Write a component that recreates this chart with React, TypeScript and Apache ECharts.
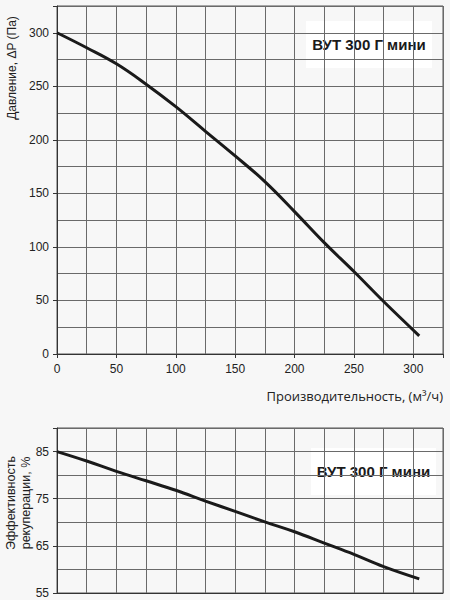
import React, { useEffect, useRef } from "react";
import * as echarts from "echarts";

const flowX = [0, 25, 50, 75, 100, 125, 150, 175, 200, 225, 250, 275, 305];
const pressure = [300, 286, 271, 252, 231, 208, 185, 161, 133, 104, 77, 49, 17];
const efficiency = [85, 83, 80.8, 78.8, 76.8, 74.5, 72.3, 70.1, 68, 65.6, 63.2, 60.6, 58];
const modelLabel = "ВУТ 300 Г мини";
const xTitle = "Производительность, (м³/ч)";
const yTitleTop = "Давление, ΔP (Па)";
const yTitleBottom = "Эффективность\nрекуперации, %";

const GRID_COLOR = "#6a6a6a";
const AXIS_COLOR = "#333";
const FONT = "Liberation Sans, Arial, sans-serif";

function xAxisCfg(gridIndex: number, showLabels: boolean) {
  return {
    type: "value",
    gridIndex,
    min: 0,
    max: 325,
    interval: 50,
    axisLine: { show: true, lineStyle: { color: AXIS_COLOR, width: 1 } },
    axisTick: { show: showLabels, length: 4, lineStyle: { color: AXIS_COLOR } },
    axisLabel: {
      show: showLabels,
      color: "#222",
      fontSize: 12,
      fontFamily: FONT,
      margin: 9,
      formatter: (v: number) => (v === 325 ? "" : String(v)),
    },
    splitLine: { show: true, lineStyle: { color: GRID_COLOR, width: 1 } },
    minorTick: { show: false, splitNumber: 2 },
    minorSplitLine: { show: true, lineStyle: { color: GRID_COLOR, width: 1 } },
  };
}

function yAxisCfg(gridIndex: number, min: number, max: number, interval: number) {
  return {
    type: "value",
    gridIndex,
    min,
    max,
    interval,
    axisLine: { show: true, lineStyle: { color: AXIS_COLOR, width: 1 } },
    axisTick: { show: true, length: 4, lineStyle: { color: AXIS_COLOR } },
    axisLabel: {
      color: "#222",
      fontSize: 12,
      fontFamily: FONT,
      margin: 8,
      formatter: (v: number) => (v === max ? "" : String(v)),
    },
    splitLine: { show: true, lineStyle: { color: GRID_COLOR, width: 1 } },
    minorTick: { show: false, splitNumber: 2 },
    minorSplitLine: { show: true, lineStyle: { color: GRID_COLOR, width: 1 } },
  };
}

function labelBox(x: number, y: number, w: number, h: number) {
  return {
    type: "group",
    left: x,
    top: y,
    children: [
      { type: "rect", shape: { x: 0, y: 0, width: w, height: h }, style: { fill: "#fff" } },
      {
        type: "text",
        x: w / 2,
        y: h / 2,
        style: {
          text: modelLabel,
          fill: "#1a1a1a",
          font: "bold 15px Liberation Sans, Arial, sans-serif",
          align: "center",
          verticalAlign: "middle",
        },
      },
    ],
  };
}

export default function App() {
  const ref = useRef<HTMLDivElement>(null);
  useEffect(() => {
    document.body.style.margin = "0";
    document.body.style.background = "#f7f7f7";
    const chart = echarts.init(ref.current!, undefined, { renderer: "svg" });
    chart.setOption({
      animation: false,
      backgroundColor: "#f7f7f7",
      grid: [
        { left: 57, top: 6, width: 386, height: 348, show: true, borderColor: "#555", borderWidth: 1 },
        { left: 57, top: 428, width: 386, height: 165, show: true, borderColor: "#555", borderWidth: 1 },
      ],
      xAxis: [xAxisCfg(0, true), xAxisCfg(1, false)],
      yAxis: [yAxisCfg(0, 0, 325, 50), yAxisCfg(1, 55, 90, 10)],
      series: [
        {
          type: "line",
          xAxisIndex: 0,
          yAxisIndex: 0,
          data: flowX.map((x, i) => [x, pressure[i]]),
          showSymbol: false,
          smooth: 0.4,
          lineStyle: { color: "#1a1a1a", width: 3 },
        },
        {
          type: "line",
          xAxisIndex: 1,
          yAxisIndex: 1,
          data: flowX.map((x, i) => [x, efficiency[i]]),
          showSymbol: false,
          smooth: 0.4,
          lineStyle: { color: "#1a1a1a", width: 3 },
        },
      ],
      graphic: [
        labelBox(306, 21, 126, 47),
        labelBox(311, 448, 125, 47),
        {
          type: "text",
          x: 443,
          y: 396,
          style: {
            text: xTitle,
            fill: "#222",
            font: "13px Open Sans, sans-serif",
            align: "right",
            verticalAlign: "middle",
          },
        },
        {
          type: "text",
          x: 12,
          y: 68,
          rotation: Math.PI / 2,
          style: {
            text: yTitleTop,
            fill: "#222",
            font: "12px Liberation Sans, Arial, sans-serif",
            align: "center",
            verticalAlign: "middle",
          },
        },
        {
          type: "text",
          x: 18,
          y: 503,
          rotation: Math.PI / 2,
          style: {
            text: yTitleBottom,
            fill: "#222",
            font: "12.5px Liberation Sans, Arial, sans-serif",
            lineHeight: 15,
            align: "center",
            verticalAlign: "middle",
          },
        },
      ],
    });
    return () => chart.dispose();
  }, []);
  return <div ref={ref} style={{ width: 450, height: 600 }} />;
}
